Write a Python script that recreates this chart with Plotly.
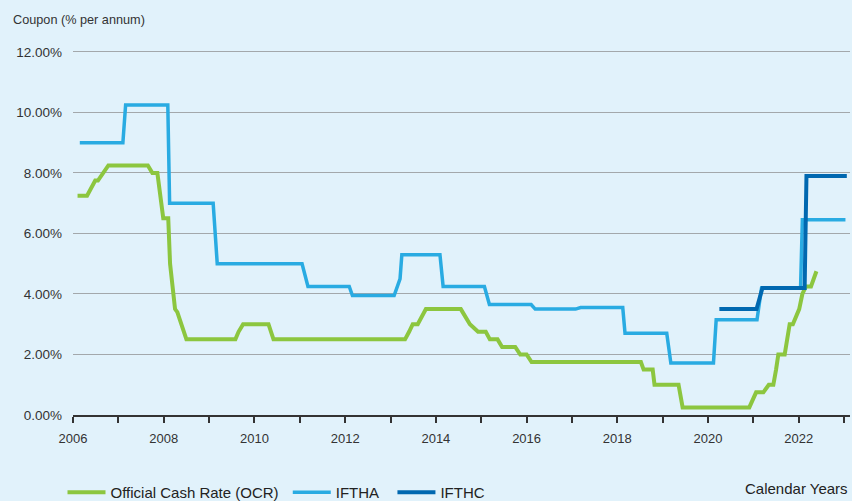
import plotly.graph_objects as go

# ---- Data (decimal calendar years, % per annum) ----
ocr_years = [2006.10, 2006.31, 2006.49, 2006.55, 2006.78, 2007.65, 2007.75, 2007.86,
             2007.99, 2008.10, 2008.14, 2008.25, 2008.30, 2008.50, 2009.58, 2009.65,
             2009.75, 2010.31, 2010.42, 2013.32, 2013.41, 2013.49, 2013.60, 2013.78,
             2014.55, 2014.73, 2014.75, 2014.93, 2015.10, 2015.19, 2015.36, 2015.46,
             2015.75, 2015.86, 2016.00, 2016.11, 2018.52, 2018.58, 2018.78, 2018.82,
             2019.35, 2019.44, 2020.91, 2021.06, 2021.22, 2021.34, 2021.44, 2021.50,
             2021.55, 2021.69, 2021.75, 2021.80, 2021.87, 2022.01, 2022.08, 2022.16,
             2022.27, 2022.39]
ocr_rates = [7.25, 7.25, 7.75, 7.75, 8.25, 8.25, 8.0, 8.0,
             6.5, 6.5, 5.0, 3.5, 3.4, 2.5, 2.5, 2.75,
             3.0, 3.0, 2.5, 2.5, 2.75, 3.0, 3.0, 3.5,
             3.5, 3.05, 3.0, 2.75, 2.75, 2.5, 2.5, 2.25,
             2.25, 2.0, 2.0, 1.75, 1.75, 1.5, 1.5, 1.0,
             1.0, 0.25, 0.25, 0.75, 0.75, 1.0, 1.0, 1.5,
             2.0, 2.0, 2.5, 3.0, 3.0, 3.5, 4.0, 4.25,
             4.25, 4.75]

iftha_years = [2006.15, 2007.10, 2007.16, 2008.09, 2008.13, 2009.09, 2009.18, 2011.05,
               2011.18, 2012.09, 2012.16, 2013.08, 2013.21, 2013.25, 2014.09, 2014.16,
               2015.07, 2015.18, 2016.10, 2016.19, 2017.08, 2017.19, 2018.12, 2018.17,
               2019.09, 2019.18, 2020.12, 2020.18, 2021.08, 2021.18, 2022.04, 2022.08,
               2023.03]
iftha_rates = [9.0, 9.0, 10.25, 10.25, 7.0, 7.0, 5.0, 5.0,
               4.25, 4.25, 3.95, 3.95, 4.5, 5.3, 5.3, 4.25,
               4.25, 3.65, 3.65, 3.5, 3.5, 3.55, 3.55, 2.7,
               2.7, 1.72, 1.72, 3.15, 3.15, 4.2, 4.2, 6.45,
               6.45]

ifthc_years = [2020.25, 2021.07, 2021.20, 2022.13, 2022.17, 2023.06]
ifthc_rates = [3.5, 3.5, 4.2, 4.2, 7.9, 7.9]

series_names = ["Official Cash Rate (OCR)", "IFTHA", "IFTHC"]
x_tick_years = list(range(2006, 2024))
y_tick_vals = [0, 2, 4, 6, 8, 10, 12]

BG = "#E1F2FB"
TXT = "#333333"
NB = "\u00a0"

fig = go.Figure()
fig.add_trace(go.Scatter(x=ocr_years, y=ocr_rates, mode="lines",
                         name=series_names[0] + NB,
                         line=dict(color="#8CC63F", width=4)))
fig.add_trace(go.Scatter(x=iftha_years, y=iftha_rates, mode="lines",
                         name=series_names[1] + NB * 2,
                         line=dict(color="#29ABE2", width=3.5)))
fig.add_trace(go.Scatter(x=ifthc_years, y=ifthc_rates, mode="lines",
                         name=series_names[2],
                         line=dict(color="#0068B0", width=4)))

fig.update_layout(
    width=852, height=501,
    margin=dict(l=72.5, r=2, t=45, b=86, autoexpand=False),
    paper_bgcolor=BG, plot_bgcolor=BG,
    font=dict(family="Liberation Sans, Arial, sans-serif", color=TXT, size=12),
    title=dict(text="Coupon (% per annum)", x=13 / 852, xanchor="left",
               y=1 - 20 / 501, yanchor="middle", xref="container", yref="container",
               font=dict(size=12.7, color=TXT)),
    showlegend=True,
    legend=dict(orientation="h", x=(62 - 72.5) / 777.5, xanchor="left",
                y=(415 - 492.5) / 370, yanchor="middle",
                font=dict(size=15, color="#222222"), bgcolor="rgba(0,0,0,0)",
                itemwidth=38),
    xaxis=dict(range=[2006, 2023.13], tickmode="array", tickvals=x_tick_years,
               ticktext=[str(y) if y % 2 == 0 and y <= 2022 else "" for y in x_tick_years],
               showgrid=False, zeroline=False, showline=True, linecolor=TXT, linewidth=1.5,
               ticks="outside", ticklen=6, tickwidth=1.5, tickcolor=TXT,
               ticklabelstandoff=5,
               tickfont=dict(size=13, color=TXT)),
    yaxis=dict(range=[0, 12.23], tickmode="array", tickvals=y_tick_vals,
               ticktext=[f"{v:.2f}%" for v in y_tick_vals],
               showgrid=True, gridcolor="#A3A8AB", gridwidth=1, zeroline=False,
               showline=False, ticks="", ticklabelstandoff=10,
               tickfont=dict(size=13.5, color=TXT)),
    annotations=[dict(text="Calendar Years", xref="paper", yref="paper", x=1.0,
                      y=(415 - 488) / 370, xanchor="right", yanchor="middle",
                      showarrow=False, font=dict(size=15, color="#222222"))],
)

fig.write_html("out.html",
               config={"displayModeBar": False},
               post_script="document.body.style.margin='0';"
                           "document.body.style.overflow='hidden';"
                           "document.body.style.background='" + BG + "';")
